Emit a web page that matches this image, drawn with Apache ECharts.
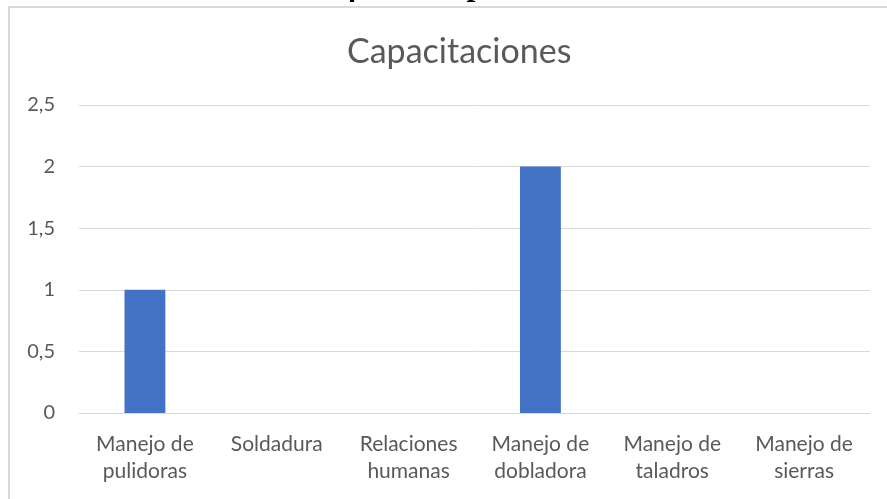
<!DOCTYPE html>
<html>
<head>
<meta charset="utf-8">
<script src="https://cdn.jsdelivr.net/npm/echarts@6/dist/echarts.min.js"></script>
<style>
  html, body { margin: 0; padding: 0; background: #fff; overflow: hidden; }
  #chart { width: 887px; height: 499px; }
</style>
</head>
<body>
<div id="chart"></div>
<script>
// Datos
const categories = ['Manejo de\npulidoras', 'Soldadura', 'Relaciones\nhumanas', 'Manejo de\ndobladora', 'Manejo de\ntaladros', 'Manejo de\nsierras']
const values = [1, 0, 0, 2, 0, 0]
const chartTitle = 'Capacitaciones'
const captionText = 'Gráfico 6 Capacitación'

const chart = echarts.init(document.getElementById('chart'))
const font = 'Lato'

chart.setOption({
  animation: false,
  title: {
    text: chartTitle,
    left: 342,
    top: 30,
    textStyle: { fontFamily: font, fontSize: 34, fontWeight: 'normal', color: '#595959' },
  },
  graphic: [
    {
      type: 'text',
      x: 452,
      y: 3,
      style: {
        text: captionText,
        font: 'italic bold 32px "Liberation Serif"',
        fill: '#000',
        textAlign: 'center',
        textVerticalAlign: 'bottom',
      },
      silent: true,
    },
    // marco del gráfico (solo borde superior e izquierdo visibles)
    {
      type: 'polyline',
      shape: { points: [[9, 499], [9, 7], [887, 7]] },
      style: { fill: 'none', stroke: '#d9d9d9', lineWidth: 2 },
      silent: true,
    },
  ],
  grid: { left: 79, right: 17, top: 105, bottom: 86 },
  xAxis: {
    type: 'category',
    data: categories,
    axisLine: { lineStyle: { color: '#d9d9d9', width: 1 } },
    axisTick: { show: false },
    axisLabel: {
      fontFamily: font,
      fontSize: 21,
      color: '#595959',
      lineHeight: 27,
      margin: 18,
      interval: 0,
    },
  },
  yAxis: {
    type: 'value',
    min: 0,
    max: 2.5,
    interval: 0.5,
    axisLine: { show: false },
    axisTick: { show: false },
    splitLine: { lineStyle: { color: '#d9d9d9', width: 1 } },
    axisLabel: {
      fontFamily: font,
      fontSize: 20,
      color: '#595959',
      margin: 24,
      formatter: (v) => String(v).replace('.', ','),
    },
  },
  series: [{
    type: 'bar',
    data: values,
    barWidth: '31%',
    itemStyle: { color: '#4472c4' },
  }],
})
</script>
</body>
</html>
